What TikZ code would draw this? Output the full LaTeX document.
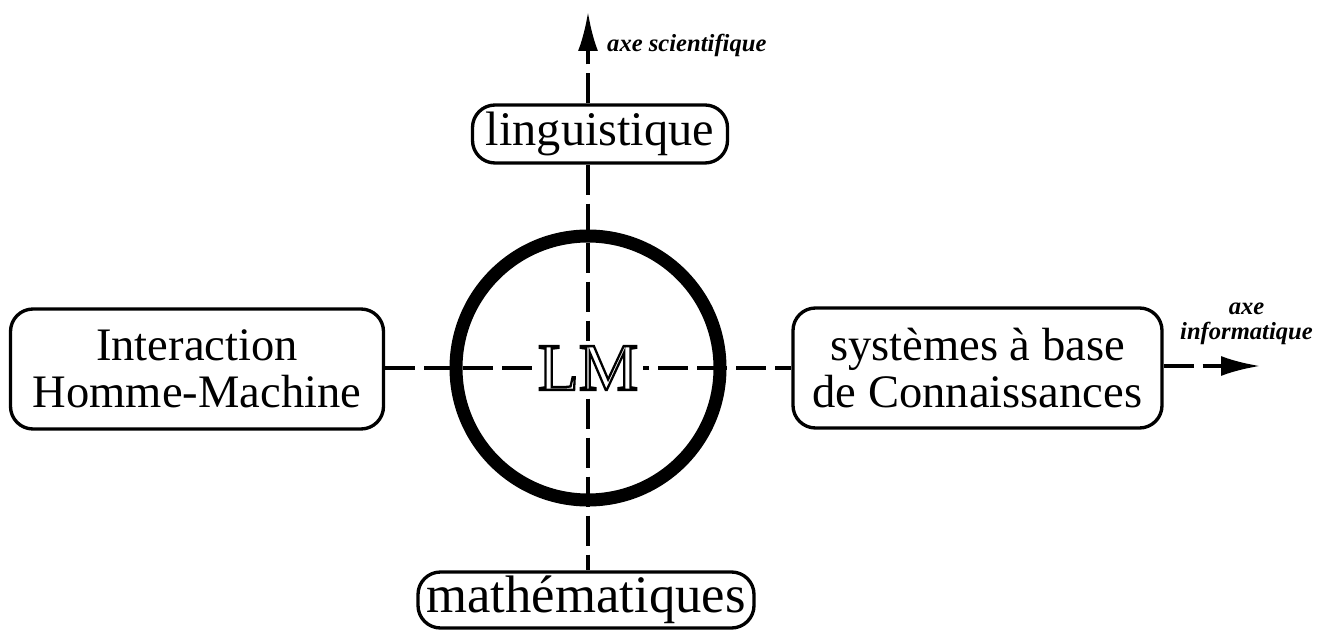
\documentclass[tikz,border=0pt]{standalone}
\usepackage{fontspec}
\setmainfont{Liberation Serif}
\usepackage{tikz}
\usetikzlibrary{arrows.meta}

\newcommand{\outlinetext}[1]{\special{pdf:literal direct 1 Tr 1.3 w}#1\special{pdf:literal direct 0 Tr}}

\begin{document}
\begin{tikzpicture}[>={Latex[length=0.78cm,width=0.4cm]},
  boite/.style={draw, line width=1.9pt, rounded corners=0.45cm, inner sep=0pt, align=center, font=\fontsize{26.5}{26.5}\selectfont},
  axe/.style={line width=2pt, dash pattern=on 0.6cm off 0.18cm},
  etiq/.style={font=\fontsize{14}{14}\selectfont\bfseries\itshape, align=center}]
  \useasboundingbox (0,0) rectangle (26.44,12.58);

  % Cercle central
  \coordinate (c) at (11.76,5.22);

  % Les quatre domaines
  \node[boite, minimum width=5.1cm, minimum height=1.16cm, font=\fontsize{27.5}{27.5}\selectfont] (ling) at (12.0,9.9) {linguistique};
  \node[boite, minimum width=6.72cm, minimum height=1.12cm, font=\fontsize{30}{30}\selectfont] (math) at (11.72,0.58) {mathématiques};
  \node[boite, minimum width=7.46cm, minimum height=2.4cm] (ihm) at (3.94,5.2) {Interaction\\Homme-Machine};
  \node[boite, minimum width=7.38cm, minimum height=2.4cm] (sbc) at (19.55,5.22) {systèmes à base\\de Connaissances};

  % Axes en pointillés
  \draw[axe] (ling.south -| c) -- (math.north -| c);
  \draw[axe] (ihm.east |- c) -- (sbc.west |- c);
  \coordinate (sci) at (11.76,12.34);
  \coordinate (info) at (25.2,5.26);
  \draw[axe, ->] (ling.north -| c) -- (sci);
  \draw[axe, ->] (sbc.east |- info) -- (info);

  % Cercle LM
  \node[draw, circle, line width=7.4pt, minimum size=5.28cm] (cercle) at (c) {};
  \node[fill=white, inner sep=3pt, font=\fontsize{38}{38}\selectfont] (lm) at (c) {\outlinetext{LM}};

  % Noms des axes
  \node[etiq, anchor=west] (nsci) at (12.02,11.68) {axe scientifique};
  \node[etiq] (ninfo) at (24.93,6.1) {axe\\informatique};
\end{tikzpicture}
\end{document}
